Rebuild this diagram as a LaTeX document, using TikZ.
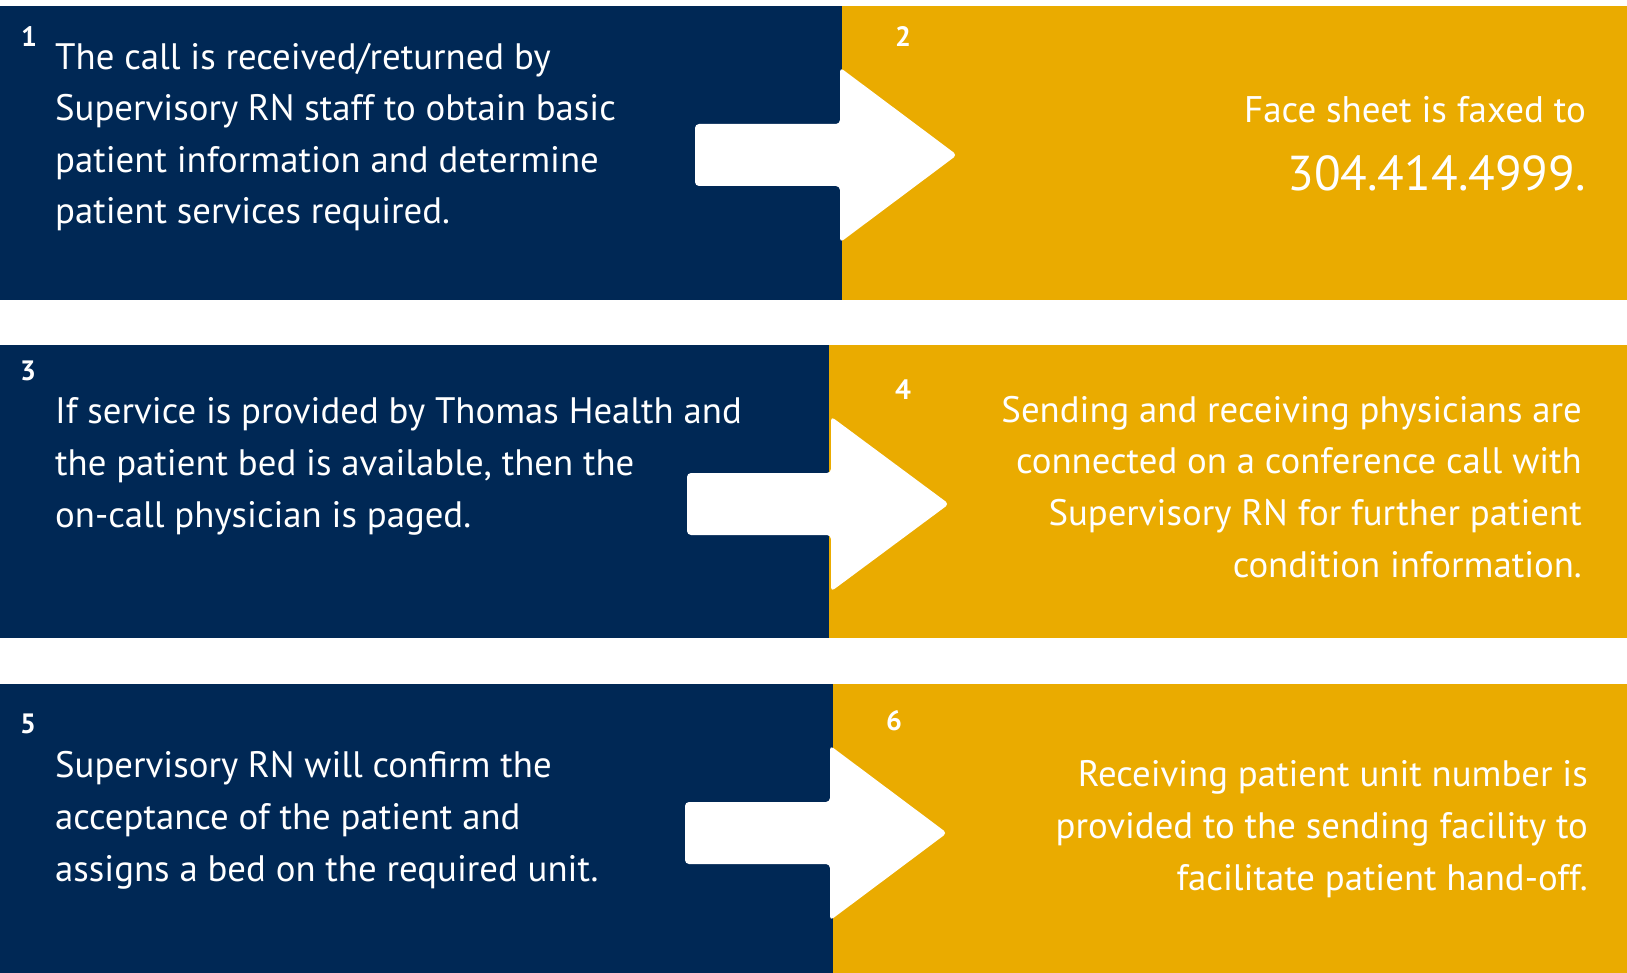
\documentclass[tikz,border=0pt]{standalone}
\usepackage{fontspec}
\setmainfont{PT Sans}
\usetikzlibrary{positioning}
\definecolor{navy}{HTML}{002855}
\definecolor{gold}{HTML}{EAAB00}
\tikzset{
  steptext/.style={text=white, inner sep=0pt, font=\fontsize{36.8}{51.6}\selectfont},
  stepnum/.style={text=white, inner sep=0pt, anchor=base west, font=\fontsize{28}{28}\selectfont\bfseries},
  arrowshape/.style={fill=white, rounded corners=4pt},
}

\begin{document}
\begin{tikzpicture}[x=1pt, y=-1pt]
  \useasboundingbox (0,0) rectangle (1627,973);

  % Panels
  \fill[navy] (0,6) rectangle (842,300);
  \fill[gold] (842,6) rectangle (1627,300);
  \fill[navy] (0,345) rectangle (829,638);
  \fill[gold] (829,345) rectangle (1627,638);
  \fill[navy] (0,684) rectangle (833,973);
  \fill[gold] (833,684) rectangle (1627,973);

  % Arrows
  \fill[arrowshape] (695,124) -- (840,124) -- (840,67.5) -- (957,155) -- (840,242.5) -- (840,186) -- (695,186) -- cycle;
  \fill[arrowshape] (687,473) -- (831,473) -- (831,416.5) -- (949,504) -- (831,591.5) -- (831,535) -- (687,535) -- cycle;
  \fill[arrowshape] (685,802) -- (830,802) -- (830,745.5) -- (947,833) -- (830,920.5) -- (830,864) -- (685,864) -- cycle;

  % Step numbers
  \node[stepnum] (num1) at (21,47) {1};
  \node[stepnum] (num2) at (895,47) {2};
  \node[stepnum] (num3) at (20,381) {3};
  \node[stepnum] (num4) at (895,399) {4};
  \node[stepnum] (num5) at (20,733) {5};
  \node[stepnum] (num6) at (886,730) {6};

  % Step texts (anchored on the baseline of the last line)
  \node[steptext, align=left, anchor=base west] (step1) at (55,224)
    {The call is received/returned by\\Supervisory RN staff to obtain basic\\patient information and determine\\patient services required.};
  \node[steptext, align=right, anchor=base east] (step2) at (1586,191)
    {{\fontsize{37}{37}\selectfont Face sheet is faxed to}\\[17pt]{\fontsize{49}{49}\selectfont 304.414.4999.}};
  \node[steptext, align=left, anchor=base west] (step3) at (55,527)
    {If service is provided by Thomas Health and\\the patient bed is available, then the\\on-call physician is paged.};
  \node[steptext, align=right, anchor=base east] (step4) at (1582,577)
    {Sending and receiving physicians are\\connected on a conference call with\\Supervisory RN for further patient\\condition information.};
  \node[steptext, align=left, anchor=base west] (step5) at (55,881)
    {Supervisory RN will confirm the\\acceptance of the patient and\\assigns a bed on the required unit.};
  \node[steptext, align=right, anchor=base east] (step6) at (1588,890)
    {Receiving patient unit number is\\provided to the sending facility to\\facilitate patient hand-off.};
\end{tikzpicture}
\end{document}
